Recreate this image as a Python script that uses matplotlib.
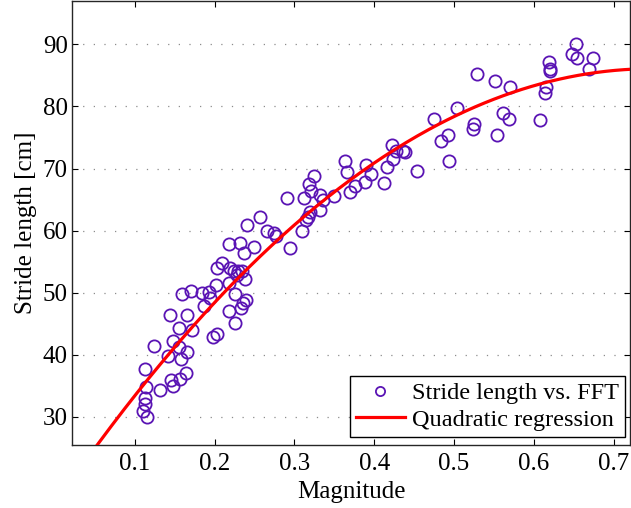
import numpy as np
import matplotlib
matplotlib.use("Agg")
import matplotlib.pyplot as plt

# Scatter data: magnitude (FFT) vs stride length [cm]
magnitude = [0.115, 0.110, 0.1135, 0.1135, 0.1141, 0.1133, 0.1323, 0.1241, 0.1413, 0.145,
             0.1483, 0.1566, 0.1645, 0.1579, 0.166, 0.1554, 0.1483, 0.155, 0.1716, 0.1441,
             0.165, 0.187, 0.1985, 0.2035, 0.1598, 0.1704, 0.1848, 0.1929, 0.1941, 0.2023,
             0.2179, 0.2254, 0.2391, 0.236, 0.2333, 0.2179, 0.226, 0.2385, 0.2279, 0.2098,
             0.2036, 0.220, 0.2241, 0.2300, 0.2348, 0.2185, 0.2323, 0.2366, 0.2498, 0.2408,
             0.2573, 0.2663, 0.2739, 0.2773, 0.2948, 0.291, 0.3091, 0.3116, 0.315, 0.317,
             0.3191, 0.3316, 0.3213, 0.3188, 0.3244, 0.3325, 0.3358, 0.3498, 0.3691, 0.3758,
             0.3879, 0.3635, 0.366, 0.390, 0.3966, 0.4125, 0.4163, 0.4233, 0.422, 0.427,
             0.4358, 0.4385, 0.4541, 0.4745, 0.4833, 0.4925, 0.4933, 0.5039, 0.5233, 0.5254,
             0.5541, 0.5614, 0.5691, 0.6079, 0.5291, 0.5519, 0.5701, 0.6141, 0.6158, 0.6191,
             0.6198, 0.620, 0.6479, 0.6531, 0.6538, 0.6745, 0.6694]
stride = [29.90, 30.95, 32.08, 32.96, 34.73, 37.67, 34.33, 41.42, 39.86, 35.94,
          34.98, 36.06, 37.07, 39.32, 40.50, 41.30, 42.22, 44.27, 43.91, 46.41,
          46.41, 47.86, 42.91, 43.35, 49.71, 50.27, 49.90, 50.03, 49.20, 51.24,
          51.56, 49.71, 48.82, 48.39, 47.46, 47.05, 45.04, 52.16, 52.85, 54.73,
          53.98, 53.90, 53.53, 53.45, 53.49, 57.84, 58.00, 56.47, 57.41, 60.90,
          62.19, 59.98, 59.57, 59.13, 57.15, 65.25, 59.98, 65.33, 61.71, 62.24,
          63.04, 63.37, 66.33, 67.58, 68.79, 65.68, 64.88, 65.57, 66.22, 67.26,
          67.83, 71.18, 69.52, 70.52, 69.16, 67.75, 70.27, 71.58, 73.75, 72.77,
          72.90, 72.61, 69.55, 77.94, 74.46, 75.39, 71.26, 79.69, 76.31, 77.12,
          75.48, 78.94, 78.05, 77.78, 85.22, 84.17, 83.08, 82.21, 83.17, 87.20,
          85.97, 85.65, 88.39, 90.08, 87.79, 87.79, 85.97]

x_ticks = [0.1, 0.2, 0.3, 0.4, 0.5, 0.6, 0.7]
y_ticks = [30, 40, 50, 60, 70, 80, 90]

plt.rcParams['font.family'] = ['Liberation Serif', 'DejaVu Serif']
plt.rcParams['mathtext.fontset'] = 'stix'

FS = 18

fig = plt.figure(figsize=(6.31, 5.08), dpi=100)
ax = fig.add_axes([72/631, 1 - 445/508, 559/631 - 0.0015, 444/508])

xlim = (0.0215, 0.7205)
ylim = (25.45, 97.0)

coef = np.polyfit(magnitude, stride, 2)
xf = np.linspace(xlim[0], xlim[1], 300)
yf = np.polyval(coef, xf)

purple = '#5A14B4'
ax.plot(magnitude, stride, linestyle='none', marker='o', markersize=8.8,
        markerfacecolor='none', markeredgecolor=purple, markeredgewidth=1.3,
        label='Stride length vs. FFT', zorder=3)
ax.plot(xf, yf, color='#FF0000', linewidth=2.3, label='Quadratic regression', zorder=4)

ax.set_xlim(*xlim)
ax.set_ylim(*ylim)
ax.set_xticks(x_ticks)
ax.set_yticks(y_ticks)
ax.set_xticklabels([f'{t:g}' for t in x_ticks])
ax.set_yticklabels([str(t) for t in y_ticks])

ax.yaxis.grid(True, linestyle=(0, (1, 7.5)), color='#8c8c8c', linewidth=0.9)
ax.xaxis.grid(False)
ax.set_axisbelow(True)

ax.tick_params(direction='in', top=True, right=True, length=4.5, width=0.8,
               labelsize=FS, colors='black')
ax.tick_params(axis='x', pad=6)
ax.tick_params(axis='y', pad=3)
for s in ax.spines.values():
    s.set_linewidth(1.0)
    s.set_color('#262626')

ax.set_xlabel('Magnitude', fontsize=FS, labelpad=4)
ax.set_ylabel('Stride length [cm]', fontsize=FS, labelpad=4)

leg = ax.legend(loc='lower right', bbox_to_anchor=(0.991, 0.018), borderaxespad=0,
                fontsize=17.5, frameon=True, fancybox=False, edgecolor='black',
                handlelength=2.0, handletextpad=0.3, labelspacing=0.2,
                borderpad=0.25, markerscale=0.75, framealpha=1)
leg.get_frame().set_linewidth(1.0)

fig.savefig('out.png', dpi=100)
